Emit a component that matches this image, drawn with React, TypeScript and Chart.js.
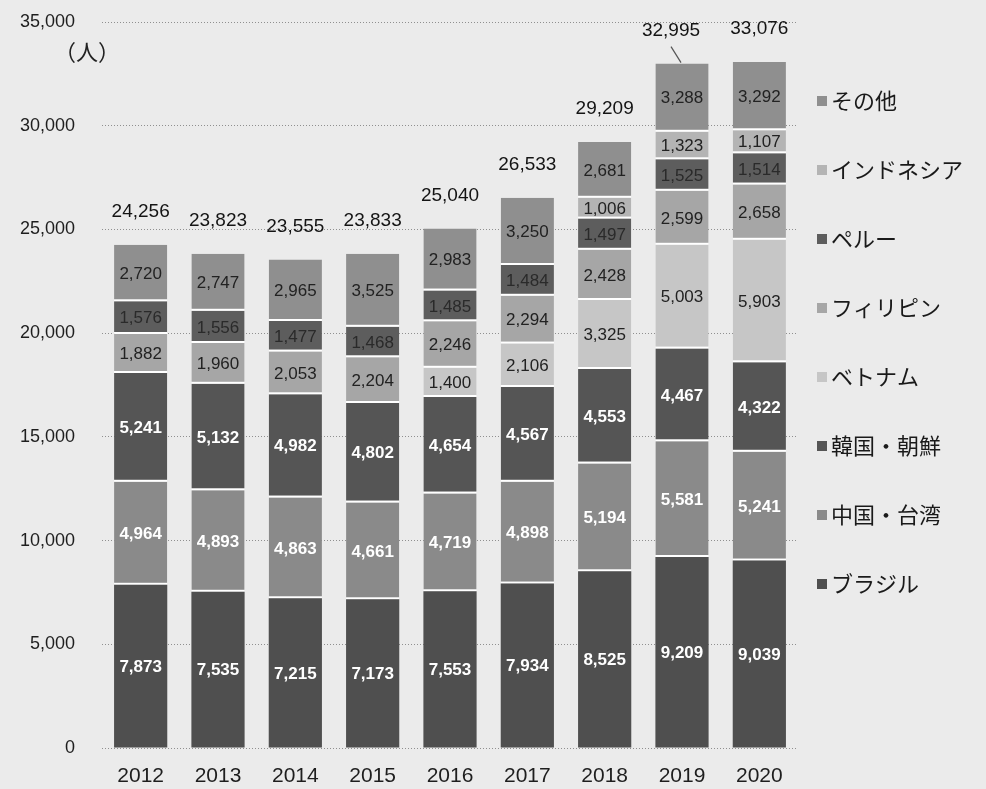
import React, { useEffect, useRef } from "react";
import { Chart, registerables } from "chart.js";

Chart.register(...registerables);

const years = ["2012", "2013", "2014", "2015", "2016", "2017", "2018", "2019", "2020"];
const brazil = [7873, 7535, 7215, 7173, 7553, 7934, 8525, 9209, 9039];
const china = [4964, 4893, 4863, 4661, 4719, 4898, 5194, 5581, 5241];
const korea = [5241, 5132, 4982, 4802, 4654, 4567, 4553, 4467, 4322];
const vietnam = [null, null, null, null, 1400, 2106, 3325, 5003, 5903];
const philippines = [1882, 1960, 2053, 2204, 2246, 2294, 2428, 2599, 2658];
const peru = [1576, 1556, 1477, 1468, 1485, 1484, 1497, 1525, 1514];
const indonesia = [null, null, null, null, null, null, 1006, 1323, 1107];
const other = [2720, 2747, 2965, 3525, 2983, 3250, 2681, 3288, 3292];
const totals = [24256, 23823, 23555, 23833, 25040, 26533, 29209, 32995, 33076];
const yTicks = [0, 5000, 10000, 15000, 20000, 25000, 30000, 35000];
const unitLabel = "（人）";

const seriesNames = ["ブラジル", "中国・台湾", "韓国・朝鮮", "ベトナム", "フィリピン", "ペルー", "インドネシア", "その他"];
const seriesData = [brazil, china, korea, vietnam, philippines, peru, indonesia, other];
const seriesColors = ["#4f4f4f", "#8a8a8a", "#555555", "#c6c6c6", "#a6a6a6", "#5d5d5d", "#b4b4b4", "#8f8f8f"];
const labelColors = ["#ffffff", "#ffffff", "#ffffff", "#222222", "#222222", "#2a2a2a", "#222222", "#222222"];
const legendOrder = [7, 6, 5, 4, 3, 2, 1, 0];

const FONT = "'Liberation Sans', Arial, sans-serif";
const CJK = "'Noto Sans CJK JP', 'Noto Sans', sans-serif";

const overlayPlugin = {
  id: "overlay",
  afterDatasetsDraw(chart: any) {
    const ctx = chart.ctx;
    const yScale = chart.scales.y;
    ctx.save();
    ctx.textAlign = "center";
    ctx.textBaseline = "middle";
    chart.data.datasets.forEach((ds: any, di: number) => {
      const meta = chart.getDatasetMeta(di);
      meta.data.forEach((el: any, i: number) => {
        const v = ds.data[i];
        if (v == null) return;
        const yc = (el.y + el.base) / 2;
        ctx.font = `${di < 3 ? "bold " : ""}17px ${FONT}`;
        ctx.fillStyle = labelColors[di];
        ctx.fillText(v.toLocaleString("en-US"), el.x, yc + 1);
      });
    });
    const meta0 = chart.getDatasetMeta(0);
    ctx.font = `19px ${FONT}`;
    ctx.fillStyle = "#141414";
    totals.forEach((t, i) => {
      const el = meta0.data[i];
      const top = yScale.getPixelForValue(t);
      let x = el.x;
      if (i === 7) {
        x -= 11;
        ctx.strokeStyle = "#555";
        ctx.lineWidth = 1.2;
        ctx.beginPath();
        ctx.moveTo(el.x - 11, top - 17);
        ctx.lineTo(el.x - 1, top - 1);
        ctx.stroke();
      }
      ctx.fillText(t.toLocaleString("en-US"), x, top - 33);
    });
    ctx.font = `22px ${CJK}`;
    ctx.fillStyle = "#222";
    ctx.textAlign = "left";
    ctx.fillText(unitLabel, 54, 52);
    const lx = chart.chartArea.right + 19;
    legendOrder.forEach((si, k) => {
      const y = 101 + k * 69;
      ctx.fillStyle = seriesColors[si];
      ctx.fillRect(lx, y - 5, 10, 10);
      ctx.fillStyle = "#1a1a1a";
      ctx.font = `22px ${CJK}`;
      ctx.textAlign = "left";
      ctx.fillText(seriesNames[si], lx + 14, y);
    });
    ctx.restore();
  },
};

export default function App() {
  const ref = useRef<HTMLCanvasElement | null>(null);
  useEffect(() => {
    if (!ref.current) return;
    const chart = new Chart(ref.current, {
      type: "bar",
      data: {
        labels: years,
        datasets: seriesData.map((d, i) => ({
          label: seriesNames[i],
          data: d as any,
          backgroundColor: seriesColors[i],
          borderColor: "#ffffff",
          borderWidth: i === 0 ? 0 : { top: 0, right: 0, bottom: 2, left: 0 },
          borderSkipped: false,
          categoryPercentage: 0.8,
          barPercentage: 0.86,
        })),
      },
      options: {
        animation: false,
        responsive: false,
        maintainAspectRatio: false,
        layout: { padding: { top: 22, right: 188, bottom: 0, left: 0 } },
        plugins: { legend: { display: false }, tooltip: { enabled: false } },
        scales: {
          x: {
            stacked: true,
            grid: { display: false, drawTicks: false },
            border: { display: false },
            ticks: { color: "#1e1e1e", font: { family: FONT, size: 21 }, padding: 16 },
            afterFit(scale: any) {
              scale.height = 41;
              scale.paddingLeft = 0;
              scale.paddingRight = 0;
            },
          },
          y: {
            stacked: true,
            min: 0,
            max: 35000,
            afterBuildTicks(scale: any) {
              scale.ticks = yTicks.map((v) => ({ value: v }));
            },
            afterFit(scale: any) {
              scale.width = 102;
              scale.paddingTop = 0;
              scale.paddingBottom = 0;
            },
            grid: { color: "#8f8f8f", drawTicks: false, lineWidth: 1 },
            border: { display: false, dash: [1, 2] },
            ticks: {
              color: "#1e1e1e",
              font: { family: FONT, size: 18 },
              padding: 27,
              callback: (v: any) => Number(v).toLocaleString("en-US"),
            },
          },
        },
      },
      plugins: [overlayPlugin],
    } as any);
    return () => chart.destroy();
  }, []);
  return (
    <div style={{ position: "absolute", left: 0, top: 0, width: 986, height: 789, background: "#ebebeb" }}>
      <canvas ref={ref} width={986} height={789} style={{ display: "block" }} />
    </div>
  );
}
